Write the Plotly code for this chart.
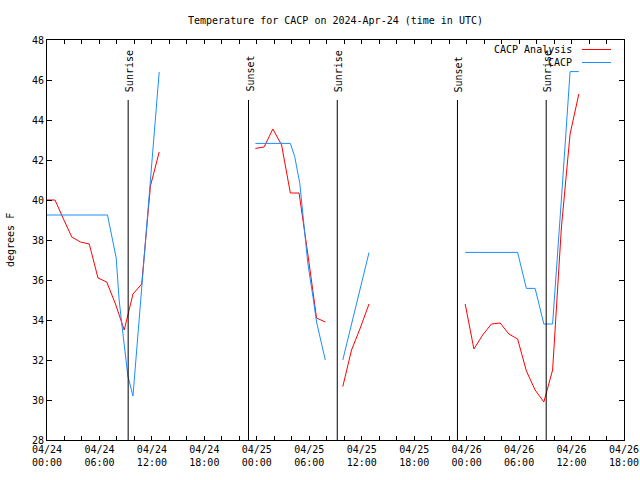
import plotly.graph_objects as go

# ---------------- data ----------------
analysis_times = [
    "2024-04-24 00:00", "2024-04-24 00:55", "2024-04-24 01:50", "2024-04-24 02:50",
    "2024-04-24 03:50", "2024-04-24 04:50", "2024-04-24 05:50", "2024-04-24 06:50",
    "2024-04-24 07:50", "2024-04-24 08:50", "2024-04-24 09:50", "2024-04-24 10:50",
    "2024-04-24 11:50", "2024-04-24 12:50", None,
    "2024-04-24 23:50", "2024-04-25 00:50", "2024-04-25 01:50", "2024-04-25 02:50",
    "2024-04-25 03:50", "2024-04-25 04:50", "2024-04-25 05:50", "2024-04-25 06:50",
    "2024-04-25 07:50", None,
    "2024-04-25 09:50", "2024-04-25 10:50", "2024-04-25 11:50", "2024-04-25 12:50", None,
    "2024-04-25 23:50", "2024-04-26 00:50", "2024-04-26 01:50", "2024-04-26 02:50",
    "2024-04-26 03:50", "2024-04-26 04:50", "2024-04-26 05:50", "2024-04-26 06:50",
    "2024-04-26 07:50", "2024-04-26 08:50", "2024-04-26 09:50", "2024-04-26 10:50",
    "2024-04-26 11:50", "2024-04-26 12:50",
]
analysis_temps = [
    40.0, 40.0, 39.1, 38.15, 37.9, 37.8, 36.1, 35.9, 34.8, 33.5, 35.3, 35.8, 40.7, 42.4, None,
    42.58, 42.65, 43.55, 42.75, 40.35, 40.35, 37.3, 34.1, 33.9, None,
    30.67, 32.5, 33.6, 34.8, None,
    34.8, 32.55, 33.25, 33.8, 33.85, 33.3, 33.05, 31.45, 30.5, 29.9, 31.5, 38.6, 43.3, 45.3,
]

obs_times = [
    "2024-04-24 00:00", "2024-04-24 06:55", "2024-04-24 07:55", "2024-04-24 08:15",
    "2024-04-24 08:35", "2024-04-24 08:55", "2024-04-24 09:15", "2024-04-24 09:50",
    "2024-04-24 12:50", None,
    "2024-04-24 23:50", "2024-04-25 03:50", "2024-04-25 04:20", "2024-04-25 04:55",
    "2024-04-25 05:20", "2024-04-25 05:50", "2024-04-25 06:25", "2024-04-25 06:50",
    "2024-04-25 07:50", None,
    "2024-04-25 09:50", "2024-04-25 12:50", None,
    "2024-04-25 23:50", "2024-04-26 05:50", "2024-04-26 06:50", "2024-04-26 07:50",
    "2024-04-26 08:50", "2024-04-26 09:50", "2024-04-26 10:50", "2024-04-26 11:50",
    "2024-04-26 12:50",
]
obs_temps = [
    39.25, 39.25, 37.1, 35.0, 33.7, 32.3, 31.2, 30.2, 46.4, None,
    42.83, 42.83, 42.17, 40.83, 39.0, 36.83, 35.17, 33.9, 32.0, None,
    32.0, 37.37, None,
    37.38, 37.38, 35.58, 35.58, 33.8, 33.8, 40.0, 46.42, 46.42,
]

sun_times = ["2024-04-24 09:17", "2024-04-24 23:03", "2024-04-25 09:12",
             "2024-04-25 22:57", "2024-04-26 09:06"]
sun_labels = ["Sunrise", "Sunset", "Sunrise", "Sunset", "Sunrise"]
sun_line_top = 45.0

tick_times = ["2024-04-24 00:00", "2024-04-24 06:00", "2024-04-24 12:00", "2024-04-24 18:00",
              "2024-04-25 00:00", "2024-04-25 06:00", "2024-04-25 12:00", "2024-04-25 18:00",
              "2024-04-26 00:00", "2024-04-26 06:00", "2024-04-26 12:00", "2024-04-26 18:00"]
tick_labels = ["04/24<br>00:00", "04/24<br>06:00", "04/24<br>12:00", "04/24<br>18:00",
               "04/25<br>00:00", "04/25<br>06:00", "04/25<br>12:00", "04/25<br>18:00",
               "04/26<br>00:00", "04/26<br>06:00", "04/26<br>12:00", "04/26<br>18:00"]

series_names = ["CACP Analysis", "CACP"]
series_colors = ["#ff0000", "#1a8cff"]

FONT = "DejaVu Sans Mono"

# ---------------- figure ----------------
fig = go.Figure()
fig.add_trace(go.Scatter(x=analysis_times, y=analysis_temps, mode="lines",
                         line=dict(color=series_colors[0], width=1),
                         name=series_names[0], connectgaps=False, showlegend=False))
fig.add_trace(go.Scatter(x=obs_times, y=obs_temps, mode="lines",
                         line=dict(color=series_colors[1], width=1),
                         name=series_names[1], connectgaps=False, showlegend=False))

for t, lab in zip(sun_times, sun_labels):
    fig.add_shape(type="line", xref="x", yref="y", x0=t, x1=t, y0=28, y1=sun_line_top,
                  line=dict(color="black", width=1))
    fig.add_annotation(x=t, y=sun_line_top, xref="x", yref="y", text=lab, showarrow=False,
                       textangle=-90, xanchor="center", yanchor="bottom", yshift=6, xshift=1,
                       font=dict(family=FONT, size=10, color="black"))

# gnuplot-style legend (text left of the sample line)
PW, PH = 577.0, 400.0
for i, (nm, col) in enumerate(zip(series_names, series_colors)):
    py = 49.5 + 13 * i
    yp = (440 - py) / PH
    fig.add_annotation(x=(574 - 47) / PW, y=yp, xref="paper", yref="paper", text=nm,
                       showarrow=False, xanchor="right", yanchor="middle",
                       font=dict(family=FONT, size=10, color="black"))
    fig.add_shape(type="line", xref="paper", yref="paper",
                  x0=(582 - 47) / PW, x1=(611 - 47) / PW, y0=yp, y1=yp,
                  line=dict(color=col, width=1))

# y-axis title
fig.add_annotation(x=0, y=0.5, xref="paper", yref="paper", text="degrees F", showarrow=False,
                   textangle=-90, xanchor="center", yanchor="middle", xshift=-37,
                   font=dict(family=FONT, size=10, color="black"))

fig.update_layout(
    width=640, height=480,
    margin=dict(l=47, r=16, t=40, b=40, autoexpand=False),
    paper_bgcolor="white", plot_bgcolor="white",
    font=dict(family=FONT, size=10, color="black"),
    title=dict(text="Temperature for CACP on 2024-Apr-24 (time in UTC)",
               x=335.5 / 640, xanchor="center", y=1 - 20 / 480, yanchor="middle",
               font=dict(family=FONT, size=10, color="black")),
    showlegend=False,
)
fig.update_xaxes(
    type="date", range=[tick_times[0], tick_times[-1]],
    tickmode="array", tickvals=tick_times, ticktext=tick_labels,
    ticks="inside", ticklen=4, tickcolor="black", tickwidth=1,
    minor=dict(dtick=2 * 3600 * 1000, tick0=tick_times[0], ticks="inside", ticklen=4,
               tickcolor="black", showgrid=False),
    showline=True, linecolor="black", linewidth=1, mirror="ticks",
    showgrid=False, zeroline=False, automargin=False,
    tickfont=dict(family=FONT, size=10, color="black"),
)
fig.update_yaxes(
    range=[28, 48], dtick=2, tick0=28,
    ticks="inside", ticklen=5, tickcolor="black", tickwidth=1,
    showline=True, linecolor="black", linewidth=1, mirror="ticks",
    showgrid=False, zeroline=False, automargin=False,
    tickfont=dict(family=FONT, size=10, color="black"),
)

fig.write_html("out.html", config={"displayModeBar": False},
               post_script="document.body.style.margin='0';")
